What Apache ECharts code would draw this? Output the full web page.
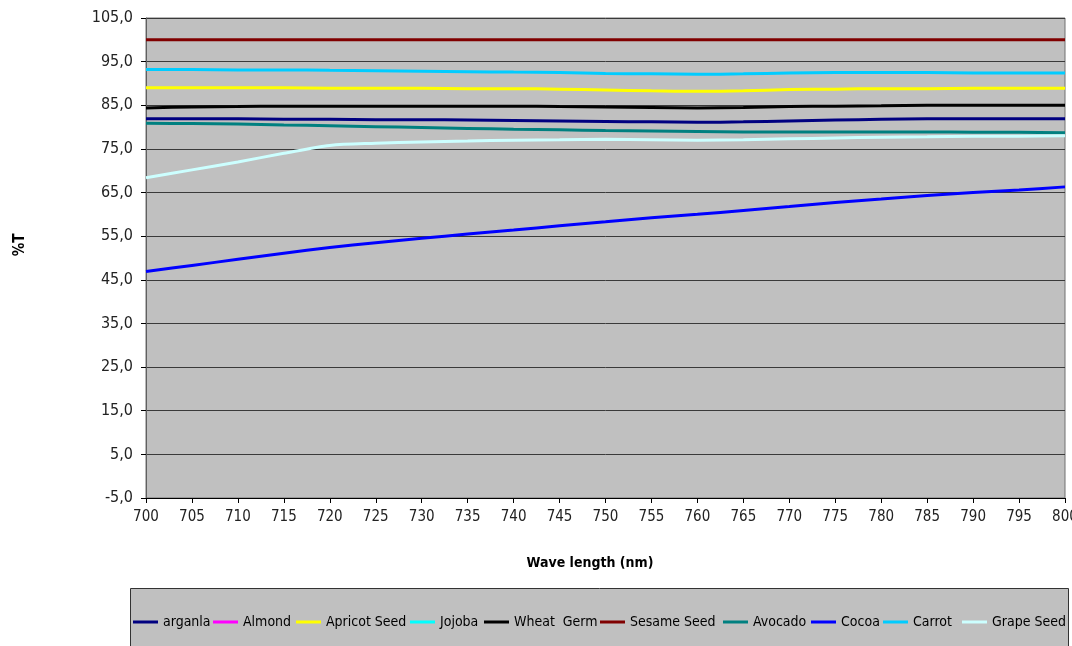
<!DOCTYPE html>
<html>
<head>
<meta charset="utf-8">
<script src="https://cdn.jsdelivr.net/npm/echarts@6/dist/echarts.min.js"></script>
<style>
html,body{margin:0;padding:0;background:#fff;}
#chart{width:1072px;height:646px;}
</style>
</head>
<body>
<div id="chart"></div>
<script>
const wavelengths = ['700','705','710','715','720','725','730','735','740','745','750','755','760','765','770','775','780','785','790','795','800'];

const arganla     = [81.9,81.9,81.9,81.8,81.8,81.7,81.7,81.6,81.5,81.4,81.3,81.2,81.1,81.2,81.4,81.6,81.8,81.9,81.9,81.9,81.9];
const almond      = [];
const apricotSeed = [89.0,89.0,89.0,89.0,88.9,88.9,88.9,88.8,88.8,88.7,88.5,88.3,88.2,88.3,88.6,88.7,88.8,88.8,88.9,88.9,88.9];
const jojoba      = [];
const wheatGerm   = [84.4,84.6,84.7,84.8,84.8,84.8,84.8,84.8,84.8,84.7,84.6,84.5,84.4,84.5,84.7,84.8,84.9,85.0,85.0,85.0,85.0];
const sesameSeed  = [100.0,100.0,100.0,100.0,100.0,100.0,100.0,100.0,100.0,100.0,100.0,100.0,100.0,100.0,100.0,100.0,100.0,100.0,100.0,100.0,100.0];
const avocado     = [80.9,80.8,80.7,80.5,80.3,80.1,79.9,79.7,79.5,79.4,79.2,79.1,79.0,78.9,78.9,78.9,78.9,78.9,78.8,78.8,78.7];
const cocoa       = [46.9,48.3,49.7,51.1,52.4,53.5,54.5,55.5,56.4,57.4,58.3,59.2,60.0,60.9,61.8,62.7,63.5,64.3,65.0,65.6,66.3];
const carrot      = [93.2,93.2,93.1,93.1,93.0,92.9,92.8,92.7,92.6,92.5,92.3,92.2,92.1,92.2,92.4,92.5,92.5,92.5,92.4,92.4,92.4];
const grapeSeed   = [68.4,70.2,72.0,74.0,75.8,76.3,76.6,76.8,77.0,77.1,77.2,77.1,77.0,77.1,77.3,77.5,77.7,77.8,77.9,77.9,78.0];

const seriesNames  = ['arganla','Almond','Apricot Seed','Jojoba','Wheat  Germ','Sesame Seed','Avocado','Cocoa','Carrot','Grape Seed'];
const seriesData   = [arganla, almond, apricotSeed, jojoba, wheatGerm, sesameSeed, avocado, cocoa, carrot, grapeSeed];
const seriesColors = ['#000080','#FF00FF','#FFFF00','#00FFFF','#000000','#800000','#008080','#0000FF','#00CCFF','#CCFFFF'];

const FONT = '"DejaVu Sans Condensed", "Liberation Sans Narrow", Arial, sans-serif';
const legendLeft = [133, 213, 296, 410, 484, 600, 723, 811, 883, 962];

const chart = echarts.init(document.getElementById('chart'), null, {renderer:'canvas'});
chart.setOption({
  backgroundColor: '#ffffff',
  animation: false,
  grid: {
    left: 146, right: 7, top: 18, bottom: 148,
    outerBoundsMode: 'none',
    containLabel: false,
    show: true, backgroundColor: '#C0C0C0', borderColor: '#707070', borderWidth: 1
  },
  graphic: [
    {type:'rect', left:130, top:588, shape:{width:938, height:70},
     style:{fill:'#C0C0C0', stroke:'#333333', lineWidth:1}, z:-1},
    {type:'text', x:590, y:563, style:{text:'Wave length (nm)', font:'bold 14px ' + FONT, fill:'#000', textAlign:'center', textVerticalAlign:'middle'}},
    {type:'text', x:20, y:245, rotation:Math.PI/2, style:{text:'%T', font:'bold 15px ' + FONT, fill:'#000', textAlign:'center', textVerticalAlign:'middle'}}
  ],
  legend: seriesNames.map((n, i) => ({
    left: legendLeft[i], top: 614,
    itemGap: 0, itemWidth: 25, itemHeight: 3,
    icon: 'rect',
    padding: 0,
    selectedMode: false,
    textStyle: {fontFamily: FONT, fontSize: 14, color: '#000', lineHeight: 16},
    data: [n]
  })),
  xAxis: {
    type: 'category',
    data: wavelengths,
    boundaryGap: false,
    axisLine: {show:true, onZero:false, lineStyle:{color:'#000', width:1}},
    axisTick: {show:true, length:5, alignWithLabel:true, lineStyle:{color:'#000'}},
    axisLabel: {fontFamily: FONT, fontSize: 15, color:'#222', margin: 12, interval: 0},
    splitLine: {show:false}
  },
  yAxis: {
    type: 'value',
    min: -5, max: 105, interval: 10,
    axisLine: {show:true, lineStyle:{color:'#606060', width:1}},
    axisTick: {show:true, length:5, lineStyle:{color:'#000'}},
    axisLabel: {fontFamily: FONT, fontSize: 16, color:'#222', margin: 13,
      formatter: v => v.toFixed(1).replace('.', ',')},
    splitLine: {show:true, lineStyle:{color:'#3a3a3a', width:1}}
  },
  series: seriesNames.map((n, i) => ({
    name: n,
    type: 'line',
    data: seriesData[i],
    smooth: 0.3,
    showSymbol: false,
    symbol: 'none',
    color: seriesColors[i],
    lineStyle: {width: 3, color: seriesColors[i]}
  }))
});
</script>
</body>
</html>
